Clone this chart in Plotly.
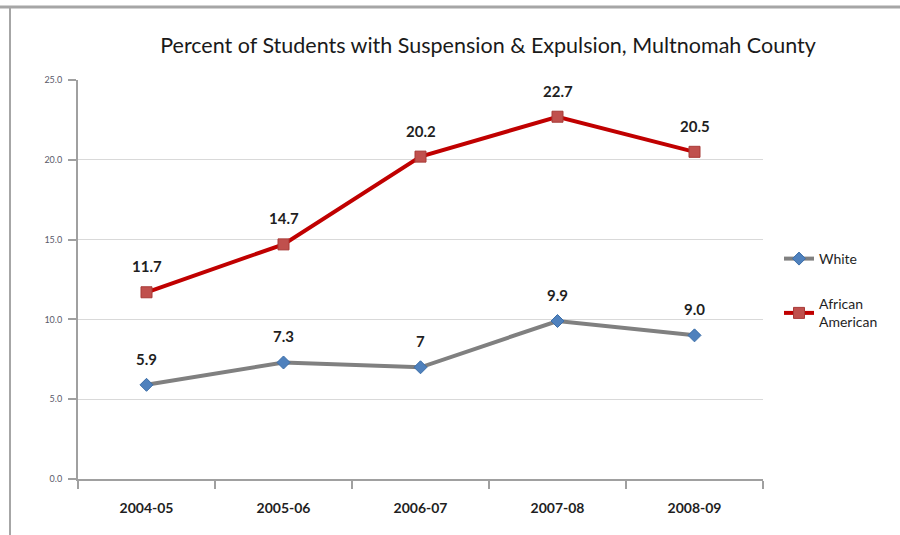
import plotly.graph_objects as go

years = ["2004-05", "2005-06", "2006-07", "2007-08", "2008-09"]
white = [5.9, 7.3, 7.0, 9.9, 9.0]
white_labels = ["5.9", "7.3", "7", "9.9", "9.0"]
african_american = [11.7, 14.7, 20.2, 22.7, 20.5]
aa_labels = ["11.7", "14.7", "20.2", "22.7", "20.5"]
y_ticks = [0, 5, 10, 15, 20, 25]

W, H = 900, 535
FONT = "Lato"

fig = go.Figure()

fig.add_trace(go.Scatter(
    x=years, y=white, name="White", mode="lines+markers",
    line=dict(color="#808080", width=4),
    marker=dict(symbol="diamond", size=10, color="#4F81BD",
                line=dict(color="#3C6EA8", width=1)),
    legendgroup="w",
))
fig.add_trace(go.Scatter(
    x=years, y=african_american, name="African<br>American", mode="lines+markers",
    line=dict(color="#C00000", width=4),
    marker=dict(symbol="square", size=11, color="#C0504D",
                line=dict(color="#A83A37", width=1)),
    legendgroup="aa",
))

# value labels above each point
for xs, ys, labs in [(years, white, white_labels), (years, african_american, aa_labels)]:
    for xv, yv, lab in zip(xs, ys, labs):
        fig.add_annotation(x=xv, y=yv, text=f"<b>{lab}</b>", showarrow=False,
                           yshift=26, font=dict(family=FONT, size=15, color="#1F1F1F"))

# outer chart frame (top and left edges)
fig.add_shape(type="line", xref="paper", yref="paper",
              x0=-0.2, x1=1.3, y0=1 + 73 / 399, y1=1 + 73 / 399,
              line=dict(color="#A6A6A6", width=3))
fig.add_shape(type="line", xref="paper", yref="paper",
              x0=(10 - 78) / 685, x1=(10 - 78) / 685, y0=1 + 73 / 399, y1=-0.2,
              line=dict(color="#A6A6A6", width=2))

fig.update_layout(
    width=W, height=H,
    margin=dict(l=78, r=137, t=80, b=56),
    paper_bgcolor="white", plot_bgcolor="white",
    font=dict(family=FONT, color="#1F1F1F"),
    title=dict(text="Percent of Students with Suspension & Expulsion, Multnomah County",
               x=488 / W, xanchor="center", xref="container",
               y=1 - 45 / H, yanchor="middle", yref="container",
               font=dict(family=FONT, size=21.5, color="#1A1A1A")),
    showlegend=True,
    legend=dict(x=(779 - 78) / 685, xanchor="left", y=(479 - 243) / 399, yanchor="top",
                font=dict(family=FONT, size=14, color="#1F1F1F"),
                traceorder="grouped", tracegroupgap=24,
                bgcolor="rgba(0,0,0,0)", itemwidth=30),
    xaxis=dict(
        type="category", range=[-0.5, 4.5], tickson="boundaries",
        ticks="outside", ticklen=8, tickwidth=1.5, tickcolor="#A0A0A0",
        showline=True, linecolor="#A0A0A0", linewidth=2,
        showgrid=False, zeroline=False,
        tickfont=dict(family=FONT, size=14, color="#1F1F1F", weight="bold"),
        ticklabelstandoff=15,
    ),
    yaxis=dict(
        range=[0, 25], tickvals=y_ticks, ticktext=[f"{v:.1f}" for v in y_ticks],
        ticks="outside", ticklen=8, tickwidth=1.5, tickcolor="#A0A0A0",
        showline=True, linecolor="#A0A0A0", linewidth=2,
        showgrid=True, gridcolor="#D9D9D9", gridwidth=1, zeroline=False,
        tickfont=dict(family=FONT, size=9, color="#5A5A6A"),
        ticklabelstandoff=4,
    ),
)

fig.write_html("out.html")
